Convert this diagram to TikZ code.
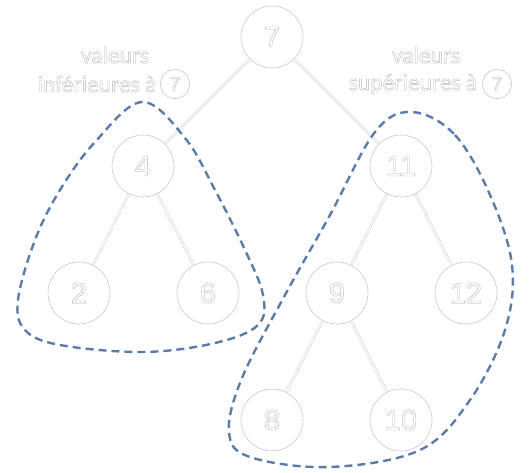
\documentclass[tikz,border=0pt]{standalone}
\usepackage{fontspec}
\setmainfont{Carlito}
\newfontfamily\digitfont{Liberation Sans}
\newcommand\olt[1]{\special{pdf:literal direct 1 Tr 0.35 w 0.7 0.7 0.7 RG}#1\special{pdf:literal direct 0 Tr}}
\definecolor{blobblue}{HTML}{5B7CAA}
\definecolor{ringgray}{HTML}{C8C8C8}
\tikzset{
  treenode/.style={circle, draw=ringgray, fill=white, line width=0.6pt, inner sep=0pt,
    minimum size=62pt, font=\digitfont\fontsize{29}{29}\selectfont},
  minicirc/.style={circle, draw=ringgray, fill=white, line width=0.6pt, inner sep=0pt,
    minimum size=29pt, font=\digitfont\fontsize{19}{19}\selectfont},
  treeedge/.style={draw=ringgray, double=white, line width=0.45pt, double distance=1.3pt},
  blob/.style={draw=blobblue, line width=2.4pt, dash pattern=on 8pt off 5pt},
  lbl/.style={inner sep=0pt, font=\fontsize{23.5}{23.5}\selectfont}
}
\begin{document}
\begin{tikzpicture}[x=1pt,y=-1pt]
\useasboundingbox (0,0) rectangle (529,472);
\coordinate (p7) at (272,37);
\coordinate (p4) at (143,166);
\coordinate (p11) at (401,166);
\coordinate (p2) at (79,293);
\coordinate (p6) at (208,293);
\coordinate (p9) at (337,293);
\coordinate (p12) at (466,293);
\coordinate (p8) at (272,420);
\coordinate (p10) at (401,420);
\node[treenode] (n7) at (p7) {\olt{7}};
\node[treenode] (n4) at (p4) {\olt{4}};
\node[treenode] (n11) at (p11) {\olt{11}};
\node[treenode] (n2) at (p2) {\olt{2}};
\node[treenode] (n6) at (p6) {\olt{6}};
\node[treenode] (n9) at (p9) {\olt{9}};
\node[treenode] (n12) at (p12) {\olt{12}};
\node[treenode] (n8) at (p8) {\olt{8}};
\node[treenode] (n10) at (p10) {\olt{10}};
\draw[treeedge] (n7) -- (n4);
\draw[treeedge] (n7) -- (n11);
\draw[treeedge] (n4) -- (n2);
\draw[treeedge] (n4) -- (n6);
\draw[treeedge] (n11) -- (n9);
\draw[treeedge] (n11) -- (n12);
\draw[treeedge] (n9) -- (n8);
\draw[treeedge] (n9) -- (n10);
\draw[blob] plot[smooth cycle, tension=0.6] coordinates {
  (142,102) (185,138) (215,190) (245,250) (263,295) (258,325) (215,343) (143,352)
  (60,345) (25,330) (18,300) (35,240) (60,190) (95,142)};
\draw[blob] plot[smooth cycle, tension=0.6] coordinates {
  (412,112) (455,135) (490,195) (512,265) (505,330) (470,400) (420,450)
  (330,467) (250,457) (229,432) (242,378) (285,295) (330,215) (375,132)};
\node[lbl] (linfa) at (115,55) {\olt{valeurs}};
\node[lbl] (linfb) at (97,84) {\olt{inférieures à}};
\node[minicirc] (cinf) at (175,84) {\olt{7}};
\node[lbl] (lsupa) at (426,55) {\olt{valeurs}};
\node[lbl] (lsupb) at (413,84) {\olt{supérieures à}};
\node[minicirc] (csup) at (497,84) {\olt{7}};
\end{tikzpicture}
\end{document}
